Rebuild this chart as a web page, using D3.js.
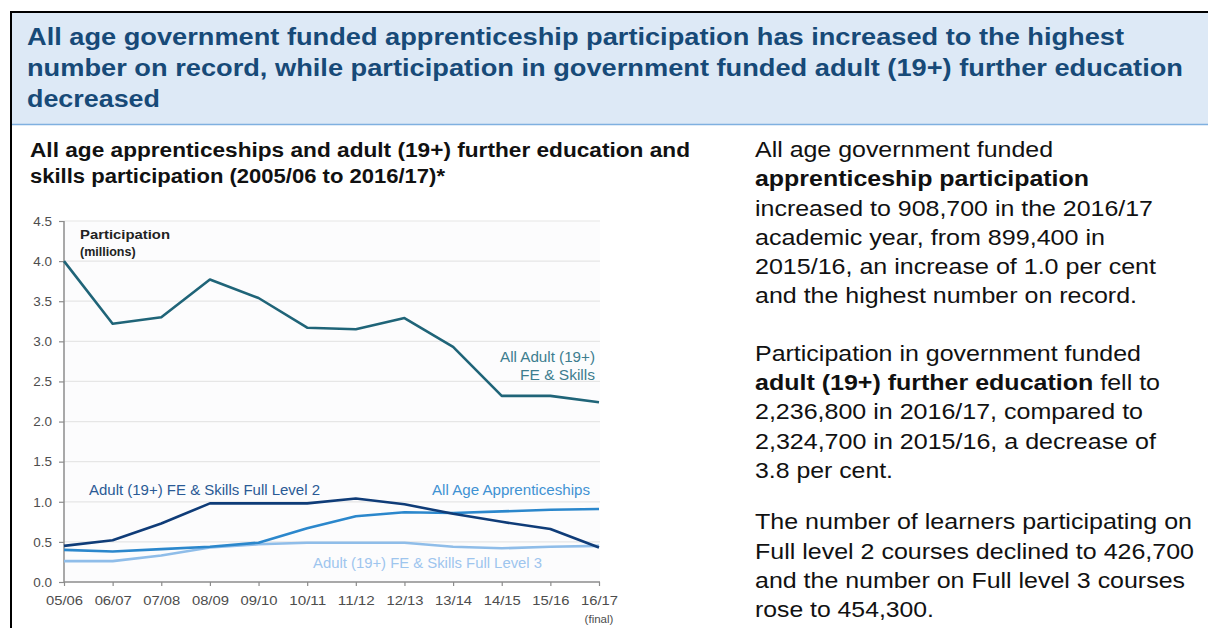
<!DOCTYPE html>
<html><head><meta charset="utf-8">
<script src="https://cdn.jsdelivr.net/npm/d3@7"></script>
<style>
html,body{margin:0;padding:0;background:#fff;}
svg{display:block;font-family:"Liberation Sans",Arial,Helvetica,sans-serif;}
</style></head>
<body>
<svg id="c" width="1208" height="628"></svg>
<script>
// ---- data ----
const years = ["05/06","06/07","07/08","08/09","09/10","10/11","11/12","12/13","13/14","14/15","15/16","16/17"];
const allAdultFE = [4.00,3.22,3.30,3.77,3.54,3.17,3.15,3.29,2.93,2.32,2.32,2.24];
const fullLevel2 = [0.45,0.52,0.73,0.98,0.98,0.98,1.04,0.97,0.85,0.75,0.66,0.43];
const apprenticeships = [0.40,0.38,0.41,0.44,0.49,0.67,0.82,0.87,0.86,0.88,0.90,0.91];
const fullLevel3 = [0.26,0.26,0.33,0.43,0.47,0.49,0.49,0.49,0.44,0.42,0.44,0.45];
const yTicks = [0,0.5,1,1.5,2,2.5,3,3.5,4,4.5];

const titleLines = [
 "All age government funded apprenticeship participation has increased to the highest",
 "number on record, while participation in government funded adult (19+) further education",
 "decreased"];
const subtitleLines = [
 "All age apprenticeships and adult (19+) further education and",
 "skills participation (2005/06 to 2016/17)*"];
// right-hand commentary: each line is a list of [text, bold]
const commentary = [
 [[["All age government funded",0]],
  [["apprenticeship participation",1]],
  [["increased to 908,700 in the 2016/17",0]],
  [["academic year, from 899,400 in",0]],
  [["2015/16, an increase of 1.0 per cent",0]],
  [["and the highest number on record.",0]]],
 [[["Participation in government funded",0]],
  [["adult (19+) further education",1],[" fell to",0]],
  [["2,236,800 in 2016/17, compared to",0]],
  [["2,324,700 in 2015/16, a decrease of",0]],
  [["3.8 per cent.",0]]],
 [[["The number of learners participating on",0]],
  [["Full level 2 courses declined to 426,700",0]],
  [["and the number on Full level 3 courses",0]],
  [["rose to 454,300.",0]]]
];

// ---- layout ----
const svg = d3.select("#c");
const W = 1208, H = 628;

// header band
svg.append("rect").attr("x",12).attr("y",13).attr("width",W-12).attr("height",111).attr("fill","#dde9f6");
svg.append("line").attr("x1",12).attr("x2",W).attr("y1",124.5).attr("y2",124.5).attr("stroke","#7fb0e0").attr("stroke-width",1.5);
svg.append("line").attr("x1",10).attr("x2",W).attr("y1",12).attr("y2",12).attr("stroke","#000").attr("stroke-width",2);
svg.append("line").attr("x1",11).attr("x2",11).attr("y1",11).attr("y2",H).attr("stroke","#000").attr("stroke-width",2);

const titleW = [1097,1156,133];
titleLines.forEach((t,i)=>{
  svg.append("text").attr("x",27).attr("y",45+i*31).attr("font-size",23).attr("font-weight","bold")
    .attr("fill","#174a78").attr("textLength",titleW[i]).attr("lengthAdjust","spacingAndGlyphs").text(t);
});
const subW = [660,415];
subtitleLines.forEach((t,i)=>{
  svg.append("text").attr("x",30).attr("y",157+i*26).attr("font-size",19.5).attr("font-weight","bold")
    .attr("fill","#111").attr("textLength",subW[i]).attr("lengthAdjust","spacingAndGlyphs").text(t);
});

// commentary
const comW = [[298,334,398,350,401,382],[386,405,388,401,138],[437,439,430,179]];
const comY = [[157,186,216,245,274,303],[361,390,419,449,478],[529,559,588,617]];
commentary.forEach((para,pi)=>{
  para.forEach((line,li)=>{
    const t = svg.append("text").attr("x",755).attr("y",comY[pi][li]).attr("font-size",22.5).attr("fill","#111")
      .attr("textLength",comW[pi][li]).attr("lengthAdjust","spacingAndGlyphs");
    line.forEach(([s,b])=>{ t.append("tspan").attr("font-weight",b?"bold":"normal").text(s); });
  });
});

// chart
const x = d3.scalePoint().domain(years).range([64,599]);
const y = d3.scaleLinear().domain([0,4.5]).range([582,221]);
const g = svg.append("g");

g.append("rect").attr("x",64).attr("y",221).attr("width",536).attr("height",361).attr("fill","#fcfcfd");
// gridlines
g.selectAll(".grid").data(yTicks.filter(d=>d>0)).join("line")
  .attr("x1",64).attr("x2",600).attr("y1",d=>y(d)).attr("y2",d=>y(d))
  .attr("stroke","#e6e6e6").attr("stroke-width",1.2);

// y axis
const yAxis = d3.axisLeft(y).tickValues(yTicks).tickFormat(d3.format(".1f")).tickSize(5).tickPadding(7);
const ya = g.append("g").attr("transform","translate(64,0)").call(yAxis);
ya.select(".domain").attr("stroke","#8c8c8c").attr("stroke-width",1.5).attr("d","M0,221V582");
ya.selectAll(".tick line").attr("stroke","#8c8c8c").attr("stroke-width",1.2);
ya.selectAll(".tick text").attr("font-size",13.5).attr("fill","#4d4d4d").attr("font-family","Liberation Sans, Arial, sans-serif");

// x axis
const xAxis = d3.axisBottom(x).tickSize(4).tickPadding(9);
const xa = g.append("g").attr("transform","translate(0,582)").call(xAxis);
xa.select(".domain").attr("stroke","#8c8c8c").attr("stroke-width",1.5).attr("d","M64,0H600");
xa.selectAll(".tick line").attr("stroke","#8c8c8c").attr("stroke-width",1.2);
xa.selectAll(".tick text").attr("font-size",13.5).attr("fill","#4d4d4d").attr("font-family","Liberation Sans, Arial, sans-serif")
  .attr("textLength",37).attr("lengthAdjust","spacingAndGlyphs");
xa.append("text").attr("x",x("16/17")).attr("y",41).attr("text-anchor","middle").attr("font-size",11.5)
  .attr("fill","#4d4d4d").attr("font-family","Liberation Sans, Arial, sans-serif").text("(final)");

// lines
const series = [
  {v:fullLevel3, c:"#8fbde9"},
  {v:apprenticeships, c:"#2b87cc"},
  {v:fullLevel2, c:"#0f3c78"},
  {v:allAdultFE, c:"#1f6478"}
];
const line = d3.line().x((d,i)=>x(years[i])).y(d=>y(d));
series.forEach(s=>{
  g.append("path").datum(s.v).attr("d",line).attr("fill","none").attr("stroke",s.c).attr("stroke-width",2.6).attr("stroke-linejoin","round");
});

// labels
g.append("text").attr("x",80).attr("y",239).attr("font-size",12.5).attr("font-weight","bold").attr("fill","#222").attr("textLength",90).attr("lengthAdjust","spacingAndGlyphs").text("Participation");
g.append("text").attr("x",80).attr("y",256).attr("font-size",12.5).attr("font-weight","bold").attr("fill","#222").text("(millions)");

function lab(t,xx,yy,col,w,anchor){
  g.append("text").attr("x",xx).attr("y",yy).attr("font-size",14).attr("fill",col).attr("text-anchor",anchor||"start")
   .attr("textLength",w).attr("lengthAdjust","spacingAndGlyphs").text(t);
}
lab("All Adult (19+)",595,362,"#3d7d8f",95,"end");
lab("FE & Skills",595,380,"#3d7d8f",75,"end");
lab("Adult (19+) FE & Skills Full Level 2",89,495,"#2a5a95",231);
lab("All Age Apprenticeships",432,495,"#3f92d3",158);
lab("Adult (19+) FE & Skills Full Level 3",313,568,"#9ec5ee",229);
</script>
</body></html>
